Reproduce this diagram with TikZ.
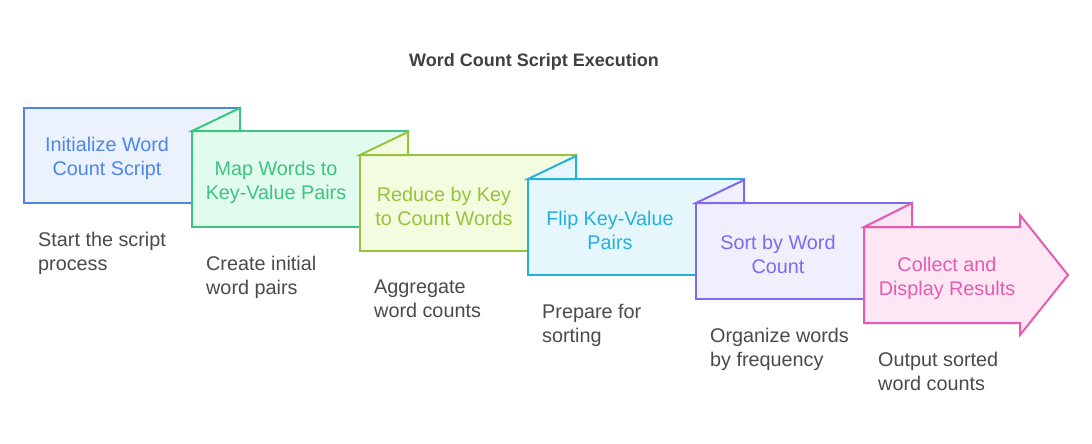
\documentclass[tikz,border=0pt]{standalone}
\usepackage{fontspec}
\setmainfont{Liberation Sans}
\definecolor{s1}{HTML}{4C87E6}\definecolor{f1}{HTML}{EBF2FE}
\definecolor{s2}{HTML}{3DC47F}\definecolor{f2}{HTML}{E2FBEF}
\definecolor{s3}{HTML}{97C23C}\definecolor{f3}{HTML}{F4FCE0}
\definecolor{s4}{HTML}{25B0DB}\definecolor{f4}{HTML}{E5F7FD}
\definecolor{s5}{HTML}{7F69EE}\definecolor{f5}{HTML}{F1EFFE}
\definecolor{s6}{HTML}{E55BAF}\definecolor{f6}{HTML}{FDE7F4}
\definecolor{titlec}{HTML}{404040}
\definecolor{descc}{HTML}{4A4A4A}
\begin{document}
\begin{tikzpicture}[x=1pt,y=-1pt,
  shp/.style={line width=2pt,line join=miter},
  boxtext/.style={align=center,font=\fontsize{19.8}{24}\selectfont,inner sep=0pt},
  desctext/.style={align=left,anchor=north west,font=\fontsize{19.8}{24}\selectfont,text=descc,inner sep=0pt},
  titletext/.style={font=\fontsize{18}{22}\bfseries\selectfont,text=titlec,inner sep=0pt}]
\useasboundingbox (0,0) rectangle (1092,444);
\fill[white] (0,0) rectangle (1092,444);
\node[titletext] (title) at (534,62) {Word Count Script Execution};
% box 1
\draw[shp,draw=s1,fill=f1] (24,108) rectangle (240,203);
% boxes 2-5
\foreach \i/\L/\T in {2/192/131,3/360/155,4/528/179,5/696/203}{
  \draw[shp,draw=s\i,fill=f\i] (\L,\T) rectangle (\L+216,\T+96);
  \draw[shp,draw=s\i,fill=f\i] (\L,\T) -- (\L+48,\T-23) -- (\L+48,\T) -- cycle;
}
% box 6 arrow
\draw[shp,draw=s6,fill=f6] (864,227) -- (1020,227) -- (1020,215) -- (1068,275) -- (1020,335) -- (1020,323) -- (864,323) -- cycle;
\draw[shp,draw=s6,fill=f6] (864,227) -- (912,203) -- (912,227) -- cycle;
% box texts
\node[boxtext,text=s1] (t1) at (107,158) {Initialize Word\\Count Script};
\node[boxtext,text=s2] (t2) at (276,182) {Map Words to\\Key-Value Pairs};
\node[boxtext,text=s3] (t3) at (444,206) {Reduce by Key\\to Count Words};
\node[boxtext,text=s4] (t4) at (610,230) {Flip Key-Value\\Pairs};
\node[boxtext,text=s5] (t5) at (778,254) {Sort by Word\\Count};
\node[boxtext,text=s6] (t6) at (947,278) {Collect and\\Display Results};
% descriptions
\node[desctext] (d1) at (38,232) {Start the script\\process};
\node[desctext] (d2) at (206,256) {Create initial\\word pairs};
\node[desctext] (d3) at (374,280) {Aggregate\\word counts};
\node[desctext] (d4) at (542,304) {Prepare for\\sorting};
\node[desctext] (d5) at (710,328) {Organize words\\by frequency};
\node[desctext] (d6) at (878,352) {Output sorted\\word counts};
\end{tikzpicture}
\end{document}
